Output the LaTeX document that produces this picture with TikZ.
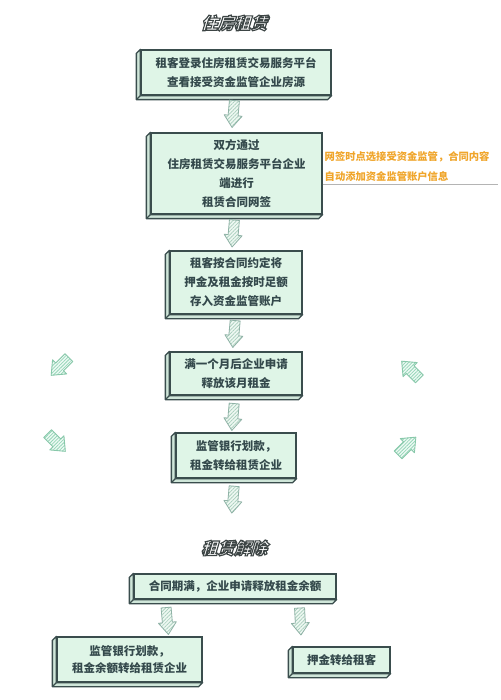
\documentclass[tikz,border=0pt]{standalone}
\usepackage{fontspec}
\setmainfont{Noto Sans CJK SC}
\newfontfamily\titlefont[FakeSlant=0.3,FakeBold=7]{Noto Sans CJK SC}
\usetikzlibrary{calc,patterns.meta}
\definecolor{txt}{HTML}{34494C}
\definecolor{bord}{HTML}{3A4D4D}
\definecolor{boxfill}{HTML}{DFF5E7}
\definecolor{sidefill}{HTML}{CFE6D9}
\definecolor{arrfill}{HTML}{EEF8F2}
\definecolor{arrhatch}{HTML}{A6CDBB}
\definecolor{arrline}{HTML}{8FB2A6}
\definecolor{sarrfill}{HTML}{EEFAF4}
\definecolor{sarrhatch}{HTML}{96D6B9}
\definecolor{sarrline}{HTML}{88C8AA}
\definecolor{notec}{HTML}{F0A52A}
\definecolor{glinec}{HTML}{B4B4B4}
\tikzset{
  box/.style={draw=bord, line width=1.3pt, fill=boxfill, text=txt,
    font=\bfseries\fontsize{11.5}{19}\selectfont, align=center, inner sep=0pt},
  sideface/.style={draw=bord, line width=1.3pt, fill=sidefill, line join=round},
  barrow/.style={draw=arrline, line width=0.8pt, line join=round,
    preaction={fill=arrfill},
    pattern={Lines[angle=45,distance=2.6pt,line width=0.7pt]}, pattern color=arrhatch},
  sarrow/.style={draw=sarrline, line width=0.9pt, line join=round,
    preaction={fill=sarrfill},
    pattern={Lines[angle=45,distance=2.4pt,line width=0.8pt]}, pattern color=sarrhatch},
  titletext/.style={text=white, font=\titlefont\bfseries\fontsize{16.5}{18}\selectfont, inner sep=0pt},
  notetext/.style={text=notec, font=\bfseries\fontsize{10.3}{20}\selectfont, align=left, inner sep=0pt},
  noteline/.style={draw=glinec, line width=0.8pt},
  mainarrow/.pic={\path[barrow] (-5,-13.5) -- (5,-13.5) -- (5,1.5) -- (9,1.5) -- (0,13.5) -- (-9,1.5) -- (-5,1.5) -- cycle;},
  sidearrow/.pic={\path[sarrow] (-5.5,-12.5) -- (5.5,-12.5) -- (5.5,0.5) -- (10,0.5) -- (0,12.5) -- (-10,0.5) -- (-5.5,0.5) -- cycle;}
}
\newcommand{\titlestroke}{\special{pdf:literal 0.24 0.27 0.27 RG}}
\begin{document}
\begin{tikzpicture}[x=1pt,y=-1pt]
\useasboundingbox[fill=white] (0,0) rectangle (500,700);

% boxes
\node[box, minimum width=190pt, minimum height=45pt] (b1) at (236,72.5)
  {租客登录住房租赁交易服务平台\\查看接受资金监管企业房源};
\node[box, minimum width=171pt, minimum height=81pt] (b2) at (236.5,173.5)
  {双方通过\\住房租赁交易服务平台企业\\端进行\\租赁合同网签};
\node[box, minimum width=132pt, minimum height=63pt] (b3) at (236,282.5)
  {租客按合同约定将\\押金及租金按时足额\\存入资金监管账户};
\node[box, minimum width=132pt, minimum height=43pt] (b4) at (236,373.5)
  {满一个月后企业申请\\释放该月租金};
\node[box, minimum width=120pt, minimum height=45pt] (b5) at (236,455.5)
  {监管银行划款，\\租金转给租赁企业};
\node[box, minimum width=202pt, minimum height=25pt] (b6) at (235,586.5)
  {合同期满，企业申请释放租金余额};
\node[box, minimum width=145pt, minimum height=45pt, font=\bfseries\fontsize{11.5}{17}\selectfont] (b7) at (129.5,659.5)
  {监管银行划款，\\租金余额转给租赁企业};
\node[box, minimum width=97pt, minimum height=26pt] (b8) at (341.5,660)
  {押金转给租客};

% note connector line
\coordinate (lnend) at (498,184);
\draw[noteline] (b2.east |- lnend) -- (lnend);

% 3D side faces
\foreach \n in {b1,b2,b3,b4,b5,b6,b7,b8}{
  \path[sideface] (\n.north west) -- ++(-4,4) |- ($(\n.south east)+(-4,4)$)
     -- (\n.south east) -- (\n.south west) -- cycle;
  \draw[sideface] (\n.south west) -- ++(-4,4);
}

% main arrows
\pic[rotate=-5] at ($(b1.south)!.5!(b2.north)+(-3,0)$) {mainarrow};
\pic[rotate=-5] at ($(b2.south)!.5!(b3.north)+(-3,1)$) {mainarrow};
\pic[rotate=-5] at ($(b3.south)!.5!(b4.north)+(-2,1)$) {mainarrow};
\pic[rotate=-5] at ($(b4.south)!.5!(b5.north)+(-3,3)$) {mainarrow};
\pic[rotate=-5] at ($(b5.south)+(-3,21)$) {mainarrow};
\pic[rotate=5] at ($(b6.south)!.5!(b7.north)+(-15,3)$) {mainarrow};
\pic[rotate=3] at ($(b6.south)!.5!(b8.north)+(12,-1.5)$) {mainarrow};

% side arrows
\pic[rotate=-45] at (60,366.5) {sidearrow};
\pic[rotate=45] at (56.5,442.5) {sidearrow};
\pic[rotate=-135] at (410.5,370) {sidearrow};
\pic[rotate=135] at (407,446) {sidearrow};

% note
\node[notetext, anchor=west] (note) at (324.5,167)
  {网签时点选接受资金监管，合同内容\\自动添加资金监管账户信息};

% titles
\node[titletext] (t1) at (234,23) {\titlestroke 住房租赁};
\node[titletext] (t2) at (234,548) {\titlestroke 租赁解除};
\end{tikzpicture}
\end{document}
